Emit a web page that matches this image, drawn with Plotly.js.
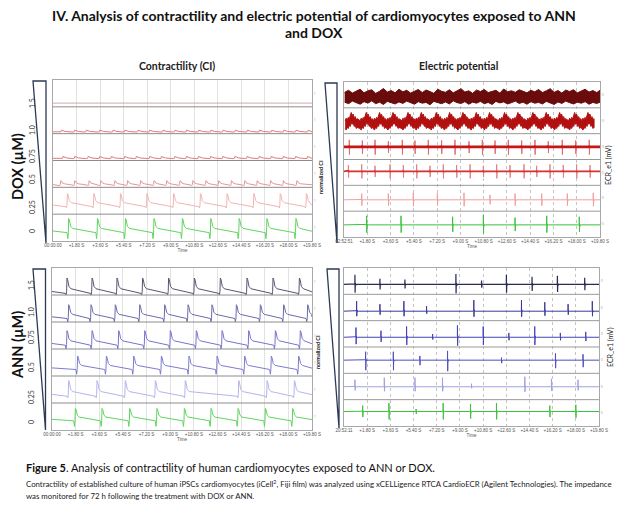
<!DOCTYPE html>
<html>
<head>
<meta charset="utf-8">
<script src="https://cdn.plot.ly/plotly-3.0.1.min.js"></script>
<style>html,body{margin:0;padding:0;background:#fff;}#chart{width:629px;height:525px;}</style>
</head>
<body>
<div id="chart"></div>
<script>
// ---------------- DATA ----------------
const T_END = 19.8;

// concentration labels, top row first
const doxLevels = ["1.5", "1.0", "0.75", "0.5", "0.25", "0"];
const annLevels = ["1.5", "1.0", "0.75", "0.5", "0.25", "0"];

// x tick labels
const ciTickLabels = ["00:00:00", "+1.80 S", "+3.60 S", "+5.40 S", "+7.20 S", "+9.00 S", "+10.80 S", "+12.60 S", "+14.40 S", "+16.20 S", "+18.00 S", "+19.80 S"];
const epTickLabelsDox = ["02:52:51", "+1.80 S", "+3.60 S", "+5.40 S", "+7.20 S", "+9.00 S", "+10.80 S", "+12.60 S", "+14.40 S", "+16.20 S", "+18.00 S", "+19.80 S"];
const epTickLabelsAnn = ["20:52:11", "+1.80 S", "+3.60 S", "+5.40 S", "+7.20 S", "+9.00 S", "+10.80 S", "+12.60 S", "+14.40 S", "+16.20 S", "+18.00 S", "+19.80 S"];

// --- Contractility (CI), DOX: beat peak times (s), top row (1.5 µM) to bottom (0 µM)
const doxCiBeats15 = [];
const doxCiBeats10 = [0.64, 1.66, 2.55, 3.57, 4.59, 5.49, 6.50, 7.39, 8.41, 9.32, 10.21, 11.14, 12.07, 13.00, 13.93, 14.86, 15.79, 16.72, 17.65, 18.58, 19.51];
const doxCiBeats075 = [0.76, 1.66, 2.68, 3.57, 4.46, 5.48, 6.37, 7.39, 8.29, 9.31, 10.20, 11.12, 12.05, 12.98, 13.90, 14.83, 15.76, 16.68, 17.61, 18.54, 19.46];
const doxCiBeats05 = [0.59, 1.66, 2.76, 3.65, 4.73, 5.70, 6.70, 7.72, 8.69, 9.71, 10.69, 11.69, 12.67, 13.64, 14.66, 15.61, 16.63, 17.61, 18.64];
const doxCiBeats025 = [1.10, 3.12, 5.16, 7.18, 9.22, 11.27, 13.31, 15.35, 17.37, 19.37];
const doxCiBeats0 = [1.20, 3.40, 5.54, 7.72, 9.89, 12.06, 14.23, 16.35, 18.57];
const doxCiBase = [0.14, 0.06, 0.07, 0.08, 0.28, 0.31];
const doxCiAmp = [0, 0.07, 0.08, 0.17, 0.49, 0.53];
const doxCiDip = [0, 0, 0, 0.1, 0.1, 0.42];

// --- Contractility (CI), ANN
const annCiBeats15 = [1.14, 3.05, 4.95, 6.90, 8.88, 10.84, 12.82, 14.85, 16.83, 18.84];
const annCiBeats10 = [1.27, 2.97, 4.82, 6.68, 8.58, 10.36, 12.18, 14.04, 15.87, 17.64, 19.47];
const annCiBeats075 = [1.14, 3.05, 5.08, 7.06, 9.01, 10.99, 12.95, 14.98, 17.01, 18.91];
const annCiBeats05 = [1.95, 4.14, 6.22, 8.33, 10.43, 12.57, 14.67, 16.70, 18.78];
const annCiBeats025 = [1.27, 3.43, 5.58, 7.87, 10.15, 14.22, 16.38, 18.46];
const annCiBeats0 = [1.78, 3.81, 5.92, 7.99, 10.08, 12.11, 14.17, 16.25, 18.33];
const annCiBase = [0.06, 0.13, 0.14, 0.24, 0.25, 0.34];
const annCiAmp = [0.57, 0.51, 0.54, 0.50, 0.58, 0.46];
const annCiDip = [0.10, 0.25, 0.25, 0.35, 0.10, 0.45];

// --- Electric potential, DOX
// row 1 (1.5 µM): noisy band, upper / lower envelope every 0.3 s
const doxEp15Upper = [0.60,0.68,0.57,0.64,0.72,0.58,0.66,0.70,0.56,0.64,0.75,0.61,0.67,0.58,0.72,0.62,0.68,0.57,0.65,0.71,0.59,0.69,0.63,0.56,0.72,0.64,0.60,0.70,0.58,0.67,0.74,0.61,0.66,0.56,0.69,0.63,0.71,0.59,0.65,0.68,0.57,0.73,0.62,0.66,0.60,0.70,0.64,0.58,0.68,0.62,0.71,0.59,0.66,0.74,0.60,0.67,0.57,0.69,0.63,0.70,0.58,0.66,0.72,0.61,0.67,0.59,0.70];
const doxEp15Lower = [0.22,0.16,0.26,0.19,0.14,0.24,0.18,0.27,0.16,0.22,0.13,0.25,0.19,0.15,0.23,0.17,0.26,0.20,0.14,0.24,0.18,0.21,0.12,0.25,0.19,0.16,0.23,0.15,0.27,0.20,0.17,0.24,0.14,0.22,0.18,0.25,0.16,0.21,0.13,0.25,0.19,0.23,0.15,0.20,0.26,0.17,0.22,0.14,0.24,0.18,0.21,0.15,0.25,0.19,0.13,0.23,0.17,0.26,0.20,0.15,0.22,0.18,0.24,0.14,0.21,0.17,0.23];
// row 2 (1.0 µM): saw-tooth band, wave crest times
const doxEp10Crests = [0.59, 1.75, 2.78, 3.82, 4.98, 6.01, 7.17, 8.20, 9.23, 10.26, 11.29, 12.45, 13.48, 14.64, 15.67, 16.71, 17.87, 18.90];
// rows 3-6: spike times and relative spike sizes
const doxEp075Spikes = [0.41, 1.42, 2.40, 3.43, 4.51, 5.49, 6.52, 7.55, 8.58, 9.67, 10.70, 11.68, 12.71, 13.74, 14.77, 15.80, 16.88, 17.92, 18.97];
const doxEp075Size = [1, 0.9, 1, 0.8, 1, 0.9, 1, 0.9, 1, 0.8, 1, 0.9, 1, 0.9, 1, 0.8, 1, 0.9, 1];
const doxEp05Spikes = [0.34, 1.37, 2.40, 3.56, 4.59, 5.62, 6.65, 7.68, 8.71, 9.75, 10.78, 11.81, 12.84, 13.92, 14.90, 15.93, 16.96, 17.99, 19.03];
const doxEp05Size = [0.9, 1, 0.8, 1, 0.9, 1, 0.8, 1, 0.9, 1, 0.8, 1, 0.9, 1, 0.8, 1, 0.9, 1, 0.9];
const doxEp025Spikes = [1.37, 3.43, 5.36, 7.22, 9.28, 11.29, 13.23, 15.29, 17.27, 19.28];
const doxEp025Size = [0.9, 0.9, 1, 0.9, 1, 0.7, 0.9, 0.9, 0.9, 1];
const doxEp0Spikes = [1.75, 4.41, 8.40, 10.78, 13.23, 15.68, 18.20];
const doxEp0Size = [1, 1, 0.9, 1.1, 0.8, 1, 0.9];

// --- Electric potential, ANN (top row first)
const annEp15Spikes = [0.85, 2.79, 4.73, 8.69, 10.68, 12.61, 14.60, 16.57, 18.69];
const annEp15Size = [1, 0.6, 0.5, 1.1, 0.4, 1.0, 0.8, 0.9, 0.7];
const annEp10Spikes = [0.98, 2.79, 4.65, 6.41, 10.08, 13.78, 15.59, 17.40, 19.28];
const annEp10Size = [1, 0.7, 1, 0.5, 1.1, 1.1, 0.9, 0.7, 1.0];
const annEp075Spikes = [0.93, 2.87, 4.86, 6.88, 8.81, 10.81, 12.80, 14.81, 16.80, 18.77];
const annEp075Size = [0.9, 0.6, 1, 0.3, 1.1, 1.0, 0.4, 1.0, 0.4, 0.5];
const annEp05Spikes = [1.68, 3.83, 5.89, 8.04, 12.23, 16.42, 18.56];
const annEp05Size = [1, 1, 0.5, 1.1, 0.3, 0.8, 0.7];
const annEp025Spikes = [0.85, 3.13, 5.51, 7.65, 9.90, 14.04, 16.11, 18.17];
const annEp025Size = [0.7, 0.9, 0.9, 0.9, 0.3, 1, 0.8, 0.7];
const annEp0Spikes = [1.45, 3.49, 5.60, 7.70, 9.82, 11.84, 15.98, 18.00];
const annEp0Size = [0.7, 1, 0.3, 1, 0.9, 1, 0.7, 0.8];
// baseline level, up / down spike height (fraction of a row), top row first
const annEpCenter = [0.38, 0.36, 0.37, 0.50, 0.49, 0.55];
const annEpUp = [0.36, 0.38, 0.41, 0.32, 0.38, 0.32];
const annEpDown = [0.32, 0.19, 0.29, 0.38, 0.19, 0.30];
const doxEpCenter = [0, 0, 0.49, 0.54, 0.44, 0.47];
const doxEpUp = [0, 0, 0.27, 0.27, 0.27, 0.35];
const doxEpDown = [0, 0, 0.30, 0.27, 0.25, 0.30];

// ---------------- STYLE ----------------
const W = 629, H = 525;
const FONT = "Lato, 'Open Sans', sans-serif";
const doxCiColors = ["#d2aaaa", "#e07a7a", "#e07a7a", "#e99393", "#f3b4b4", "#5ed65e"];
const annCiColors = ["#565670", "#6a6ab0", "#7474cc", "#7c7cd0", "#b4b4ee", "#5ed65e"];
const doxEpColors = ["#6b0c0c", "#b20f0f", "#c41818", "#d43434", "#f0a0a0", "#3cc23c"];
const doxEpSpikeColors = ["#6b0c0c", "#b20f0f", "#e26a6a", "#e58080", "#f0a0a0", "#3cc23c"];
const annEpColors = ["#2a2a55", "#3a3a99", "#4444bb", "#5050c0", "#a0a0e2", "#3cc23c"];

// beat templates (time offset from peak, s)
const ciTplDt = [-0.12, -0.07, -0.03, 0, 0.05, 0.15, 0.30];
const ciTplV = [0, 0, 0.15, 1, 0.9, 0.45, 0.30];
const ciTplDipW = [0, 1, 0.4, 0, 0, 0, 0];
const epTplDt = [-0.05, -0.008, 0, 0.012, 0.03, 0.07, 0.13];
const epTplUp = [0, 0.05, 1, 0, 0.12, 0, 0];
const epTplDown = [0, 0, 0, 1, 0, 0.1, 0];
const sawTplDt = [-0.50, -0.42, -0.33, -0.26, -0.18, -0.10, -0.03, 0.04, 0.12, 0.20, 0.28, 0.36, 0.44];
const sawTplUp = [0.50, 0.60, 0.53, 0.63, 0.58, 0.70, 0.82, 0.70, 0.76, 0.62, 0.66, 0.55, 0.58];
const sawTplLo = [0.20, 0.14, 0.26, 0.20, 0.32, 0.28, 0.44, 0.36, 0.42, 0.28, 0.32, 0.20, 0.24];

// ---------------- BUILDERS ----------------
function ciSeries(beats, base, amp, dip, off) {
  const xs = [0], ys = [off + base + amp * 0.12];
  beats.forEach(b => {
    for (let i = 0; i < ciTplDt.length; i++) {
      const t = b + ciTplDt[i];
      if (t <= 0 || t >= T_END) continue;
      xs.push(t); ys.push(off + base + amp * (ciTplV[i] - dip * ciTplDipW[i]));
    }
  });
  xs.push(T_END); ys.push(off + base + amp * 0.1);
  return {xs, ys};
}
function epSeries(times, sizes, center, up, down, off, k) {
  const xs = [0], ys = [off + center];
  times.forEach((t0, j) => {
    const s = sizes[j] * k;
    for (let i = 0; i < epTplDt.length; i++) {
      const t = t0 + epTplDt[i];
      if (t <= 0 || t >= T_END) continue;
      xs.push(t); ys.push(off + center + s * (up * epTplUp[i] - down * epTplDown[i]));
    }
  });
  xs.push(T_END); ys.push(off + center);
  return {xs, ys};
}

const traces = [];
function line(xs, ys, ax, color, width) {
  traces.push({type: "scatter", mode: "lines", x: xs, y: ys, xaxis: "x" + ax, yaxis: "y" + ax,
    line: {color: color, width: width, shape: "linear"}, hoverinfo: "skip", showlegend: false});
}
function band(xs, up, lo, ax, color) {
  const x = xs.concat(xs.slice().reverse());
  const y = up.concat(lo.slice().reverse());
  traces.push({type: "scatter", mode: "lines", x: x, y: y, xaxis: "x" + ax, yaxis: "y" + ax,
    fill: "toself", fillcolor: color, line: {color: color, width: 1}, hoverinfo: "skip", showlegend: false});
}

// DOX contractility (axis 1)
[doxCiBeats15, doxCiBeats10, doxCiBeats075, doxCiBeats05, doxCiBeats025, doxCiBeats0].forEach((b, r) => {
  const s = ciSeries(b, doxCiBase[r], doxCiAmp[r], doxCiDip[r], 5 - r);
  line(s.xs, s.ys, "", doxCiColors[r], 1);
});
// ANN contractility (axis 3)
[annCiBeats15, annCiBeats10, annCiBeats075, annCiBeats05, annCiBeats025, annCiBeats0].forEach((b, r) => {
  const s = ciSeries(b, annCiBase[r], annCiAmp[r], annCiDip[r], 5 - r);
  line(s.xs, s.ys, "3", annCiColors[r], 1);
});
// DOX electric potential (axis 2)
(function () {
  const xs = doxEp15Upper.map((_, i) => i * 0.3 + 0.05);
  band(xs, doxEp15Upper.map(v => v + 5), doxEp15Lower.map(v => v + 5), "2", doxEpColors[0]);
  const sx = [], su = [], sl = [];
  doxEp10Crests.forEach(c => {
    for (let i = 0; i < sawTplDt.length; i++) {
      const t = c + sawTplDt[i];
      if (t < 0 || t > T_END) continue;
      sx.push(t); su.push(4 + sawTplUp[i]); sl.push(4 + sawTplLo[i]);
    }
  });
  band(sx, su, sl, "2", doxEpColors[1]);
  const spk = [[doxEp075Spikes, doxEp075Size], [doxEp05Spikes, doxEp05Size], [doxEp025Spikes, doxEp025Size], [doxEp0Spikes, doxEp0Size]];
  spk.forEach((p, j) => {
    const r = j + 2;
    const s = epSeries(p[0], p[1], doxEpCenter[r], doxEpUp[r], doxEpDown[r], 5 - r, 1);
    line(s.xs, s.ys, "2", doxEpSpikeColors[r], 1);
    if (r === 2 || r === 3) {
      const b = epSeries(p[0], p[1], doxEpCenter[r], doxEpUp[r], doxEpDown[r], 5 - r, 0.12);
      line(b.xs, b.ys, "2", doxEpColors[r], r === 2 ? 2.6 : 1.7);
    }
  });
})();
// ANN electric potential (axis 4)
[[annEp15Spikes, annEp15Size], [annEp10Spikes, annEp10Size], [annEp075Spikes, annEp075Size],
 [annEp05Spikes, annEp05Size], [annEp025Spikes, annEp025Size], [annEp0Spikes, annEp0Size]].forEach((p, r) => {
  const s = epSeries(p[0], p[1], annEpCenter[r], annEpUp[r], annEpDown[r], 5 - r, 1);
  line(s.xs, s.ys, "4", annEpColors[r], r === 0 ? 1.2 : 1);
});

// ---------------- LAYOUT ----------------
const px = x => x / W, py = y => 1 - y / H;
const tickVals = ciTickLabels.map((_, i) => i * 1.8);
const rowCenters = [0.5, 1.5, 2.5, 3.5, 4.5, 5.5];

function xAxis(l, r, anchor, labels, ep) {
  return {domain: [px(l), px(r)], range: [0, T_END], anchor: anchor, tickmode: "array",
    tickvals: tickVals, ticktext: labels, ticks: "", tickfont: {size: 4.5, color: "#555", family: "Liberation Sans, Arial"},
    showgrid: true, gridcolor: ep ? "#c4c4c4" : "#e2e2e2", griddash: ep ? "dot" : "solid", gridwidth: 1,
    zeroline: false, showline: true, linecolor: "#a8a8a8", mirror: true, fixedrange: true,
    title: {text: "Time", font: {size: 4.5, color: "#555", family: "Liberation Sans, Arial"}, standoff: 1}, automargin: false};
}
function yAxis(t, b, anchor, lbl) {
  return {domain: [py(b), py(t)], range: [0, 6], anchor: anchor, side: "right", tickmode: "array",
    tickvals: rowCenters, ticktext: rowCenters.map(() => lbl), ticks: "", tickfont: {size: 3.5, color: "#999"},
    showgrid: false, zeroline: false, showline: true, linecolor: "#a8a8a8", mirror: true, fixedrange: true, automargin: false};
}

const shapes = [];
[["x", "y", "#8c8c8c"], ["x2", "y2", "#9a9a9a"], ["x3", "y3", "#8c8c8c"], ["x4", "y4", "#9a9a9a"]].forEach(a => {
  [1, 2, 3, 4, 5].forEach(k => shapes.push({type: "line", xref: a[0] + " domain", yref: a[1], x0: 0, x1: 1, y0: k, y1: k,
    line: {color: a[2], width: 1}}));
});
function wedge(x1, x2, yt, yb) {
  shapes.push({type: "path", xref: "paper", yref: "paper",
    path: `M ${px(x1)},${py(yt)} L ${px(x2)},${py(yt)} L ${px(x2)},${py(yb)} Z`,
    fillcolor: "rgba(255,255,255,0)", line: {color: "#2c3a55", width: 1.3}});
}
wedge(33, 46, 81, 243);
wedge(33, 45.5, 269, 430);
wedge(325, 337, 83, 243);
wedge(327, 339, 269, 428);

const ann = [];
function txt(text, x, y, size, opts) {
  ann.push(Object.assign({text: text, x: px(x), y: py(y), xref: "paper", yref: "paper", showarrow: false,
    xanchor: "center", yanchor: "middle", font: {family: FONT, size: size, color: "#222"}}, opts || {}));
}
const BOLD = (s, c) => ({family: FONT, size: s, color: c || "#111", weight: 700});
txt("IV. Analysis of contractility and electric potential of cardiomyocytes exposed to ANN", 314, 16, 14, {font: BOLD(14)});
txt("and DOX", 314, 33, 14, {font: BOLD(14)});
txt("Contractility (CI)", 177, 66, 10.5, {font: BOLD(10.5, "#222")});
txt("Electric potential", 458, 66, 10.5, {font: BOLD(10.5, "#222")});
txt("DOX (µM)", 17, 167, 14.5, {textangle: -90, font: BOLD(14.5)});
txt("ANN (µM)", 17, 345, 14.5, {textangle: -90, font: BOLD(14.5)});
const doxLabelY = [103, 130, 156, 179, 207, 231];
const annLabelY = [285, 312, 337, 367, 397, 422];
doxLevels.forEach((l, i) => txt(l, 32, doxLabelY[i], 7, {textangle: -90, font: {family: FONT, size: 7, color: "#333"}}));
annLevels.forEach((l, i) => txt(l, 31, annLabelY[i], 7, {textangle: -90, font: {family: FONT, size: 7, color: "#333"}}));
txt("normalized CI", 321, 177, 5.5, {textangle: -90, font: BOLD(5.5, "#222")});
txt("normalized CI", 318, 352, 5.5, {textangle: -90, font: BOLD(5.5, "#222")});
txt("ECR_e1 (mV)", 608, 165, 7, {textangle: -90, font: {family: FONT, size: 7, color: "#222"}});
txt("ECR_e1 (mV)", 610, 347, 7, {textangle: -90, font: {family: FONT, size: 7, color: "#222"}});
txt("<b>Figure 5</b>. Analysis of contractility of human cardiomyocytes exposed to ANN or DOX.", 24, 467, 11,
  {xanchor: "left", font: {family: FONT, size: 11, color: "#111"}});
txt("Contractility of established culture of human iPSCs cardiomyocytes (iCell<sup>2</sup>, Fiji film) was analyzed using xCELLigence RTCA CardioECR (Agilent Technologies). The impedance",
  24, 484, 7.8, {xanchor: "left", font: {family: FONT, size: 7.8, color: "#222"}});
txt("was monitored for 72 h following the treatment with DOX or ANN.", 24, 496, 7.8,
  {xanchor: "left", font: {family: FONT, size: 7.8, color: "#222"}});

const layout = {
  width: W, height: H, autosize: false, margin: {l: 0, r: 0, t: 0, b: 0},
  paper_bgcolor: "#fff", plot_bgcolor: "#fff", showlegend: false,
  xaxis: xAxis(53, 312, "y", ciTickLabels, false),
  yaxis: yAxis(80, 241, "x", "1"),
  xaxis2: xAxis(344, 600, "y2", epTickLabelsDox, true),
  yaxis2: yAxis(82, 237, "x2", "0"),
  xaxis3: xAxis(52, 312, "y3", ciTickLabels, false),
  yaxis3: yAxis(268, 430, "x3", "1"),
  xaxis4: xAxis(344, 599, "y4", epTickLabelsAnn, true),
  yaxis4: yAxis(268, 426, "x4", "0"),
  shapes: shapes, annotations: ann
};
Plotly.newPlot("chart", traces, layout, {displayModeBar: false, staticPlot: true});
</script>
</body>
</html>
